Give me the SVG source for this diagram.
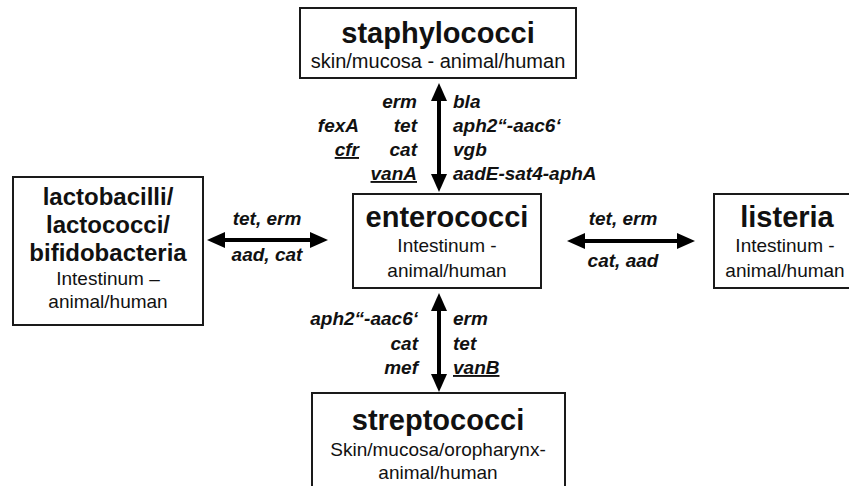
<svg xmlns="http://www.w3.org/2000/svg" width="849" height="486" viewBox="0 0 849 486">
<style>
.box{fill:#fff;stroke:#1a1a1a;stroke-width:2}
.title{font-family:"Liberation Sans",Arial,sans-serif;font-weight:bold;font-size:29px;fill:#111;text-anchor:middle}
.title2{font-family:"Liberation Sans",Arial,sans-serif;font-weight:bold;font-size:24px;fill:#111;text-anchor:middle}
.sub{font-family:"Liberation Sans",Arial,sans-serif;font-size:19px;fill:#111;text-anchor:middle}
.gene{font-family:"Liberation Sans",Arial,sans-serif;font-weight:bold;font-style:italic;font-size:19px;fill:#111}
.r{text-anchor:end}
.c{text-anchor:middle}
.u{text-decoration:underline}
.conn{stroke:#000;stroke-width:4;fill:none;marker-start:url(#ah);marker-end:url(#ah)}
</style>
<defs>
<marker id="ah" markerUnits="userSpaceOnUse" markerWidth="18" markerHeight="16" refX="2" refY="8" orient="auto-start-reverse" viewBox="0 0 18 16">
<path d="M0,0 L18,8 L0,16 Z" fill="#000"/>
</marker>
</defs>
<rect width="849" height="486" fill="#fff"/>
<g id="connectors">
<line class="conn" x1="439" y1="99" x2="439" y2="176"/>
<line class="conn" x1="439" y1="309" x2="439" y2="376"/>
<line class="conn" x1="223" y1="240" x2="312" y2="240"/>
<line class="conn" x1="583" y1="241" x2="679" y2="241"/>
</g>
<g id="labels-top">
<text class="gene r" x="417" y="108">erm</text>
<text class="gene r" x="417" y="132">tet</text>
<text class="gene r" x="417" y="156">cat</text>
<text class="gene r u" x="417" y="180">vanA</text>
<text class="gene r" x="359" y="132">fexA</text>
<text class="gene r u" x="359" y="156">cfr</text>
<text class="gene" x="453" y="108">bla</text>
<text class="gene" x="453" y="132">aph2“-aac6‘</text>
<text class="gene" x="453" y="156">vgb</text>
<text class="gene" x="453" y="180">aadE-sat4-aphA</text>
</g>
<g id="labels-left">
<text class="gene c" x="267" y="225">tet, erm</text>
<text class="gene c" x="267" y="261">aad, cat</text>
</g>
<g id="labels-right">
<text class="gene c" x="623" y="225">tet, erm</text>
<text class="gene c" x="623" y="267">cat, aad</text>
</g>
<g id="labels-bottom">
<text class="gene r" x="418" y="325">aph2“-aac6‘</text>
<text class="gene r" x="418" y="350">cat</text>
<text class="gene r" x="418" y="374">mef</text>
<text class="gene" x="453" y="325">erm</text>
<text class="gene" x="453" y="350">tet</text>
<text class="gene u" x="453" y="374">vanB</text>
</g>
<g id="staphylococci">
<rect class="box" x="300" y="8" width="276" height="70"/>
<text class="title" x="438" y="43">staphylococci</text>
<text class="sub" x="438" y="68" style="font-size:20px">skin/mucosa - animal/human</text>
</g>
<g id="enterococci">
<rect class="box" x="353" y="194" width="188" height="94"/>
<text class="title" x="447" y="227">enterococci</text>
<text class="sub" x="447" y="252">Intestinum -</text>
<text class="sub" x="447" y="277">animal/human</text>
</g>
<g id="lactobacilli">
<rect class="box" x="13" y="177" width="190" height="148"/>
<text class="title2" x="108" y="205">lactobacilli/</text>
<text class="title2" x="108" y="233">lactococci/</text>
<text class="title2" x="108" y="261">bifidobacteria</text>
<text class="sub" x="108" y="285">Intestinum –</text>
<text class="sub" x="108" y="308">animal/human</text>
</g>
<g id="listeria">
<rect class="box" x="714" y="194" width="160" height="94"/>
<text class="title" x="787" y="227">listeria</text>
<text class="sub" x="785" y="252">Intestinum -</text>
<text class="sub" x="785" y="277">animal/human</text>
</g>
<g id="streptococci">
<rect class="box" x="312" y="393" width="253" height="110"/>
<text class="title" x="438" y="430">streptococci</text>
<text class="sub" x="438" y="456">Skin/mucosa/oropharynx-</text>
<text class="sub" x="438" y="479">animal/human</text>
</g>
</svg>
